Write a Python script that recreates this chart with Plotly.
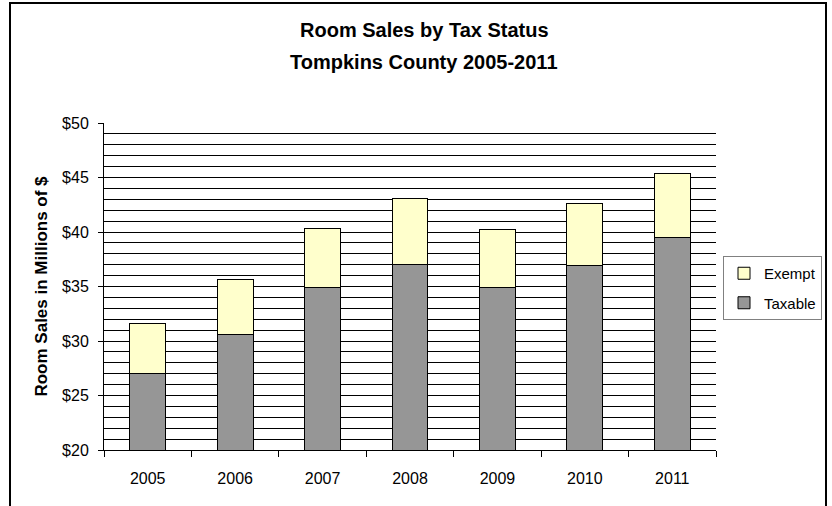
import plotly.graph_objects as go

years = ["2005", "2006", "2007", "2008", "2009", "2010", "2011"]
taxable = [27.0, 30.6, 34.95, 37.05, 34.95, 36.9, 39.45]
exempt = [4.65, 5.0, 5.4, 6.05, 5.3, 5.7, 5.95]

title_line1 = "Room Sales by Tax Status"
title_line2 = "Tompkins County 2005-2011"
y_title = "Room Sales in Millions of $"

FONT = "Liberation Sans, Arial, sans-serif"

# plot area geometry (pixels)
L, R, T, B = 104, 116, 123, 56
W, H = 832, 506
PW, PH = W - L - R, H - T - B


def px_x(X):
    return (X - L) / PW


def px_y(Y):
    return (H - B - Y) / PH


fig = go.Figure()
fig.add_trace(go.Bar(
    x=years, y=taxable, name="Taxable", legendgroup="t", legendrank=2,
    marker=dict(color="#969696", line=dict(color="black", width=1)),
))
fig.add_trace(go.Bar(
    x=years, y=exempt, name="Exempt", legendgroup="e", legendrank=1,
    marker=dict(color="#FFFFCC", line=dict(color="black", width=1)),
))

fig.update_layout(
    width=W, height=H,
    margin=dict(l=L, r=R, t=T, b=B, autoexpand=False),
    barmode="stack", bargap=0.589,
    paper_bgcolor="white", plot_bgcolor="white",
    font=dict(family=FONT, size=16, color="black"),
    showlegend=True,
    legend=dict(
        x=px_x(723), y=px_y(256), xanchor="left", yanchor="top",
        traceorder="grouped", tracegroupgap=7,
        bordercolor="#808080", borderwidth=1, bgcolor="white",
        font=dict(family=FONT, size=15, color="black"),
    ),
    xaxis=dict(
        type="category", showgrid=False, showline=True, linecolor="black", linewidth=1,
        ticks="outside", ticklen=6, tickcolor="black", tickson="boundaries",
        ticklabelstandoff=14,
        tickfont=dict(family=FONT, size=16, color="black"),
    ),
    yaxis=dict(
        range=[20, 50], dtick=5, tick0=0, tickprefix="$",
        showgrid=True, gridcolor="black", gridwidth=1,
        minor=dict(dtick=1, showgrid=True, gridcolor="black", gridwidth=1),
        showline=True, linecolor="black", linewidth=1,
        ticks="outside", ticklen=5, tickcolor="black",
        ticklabelstandoff=6, zeroline=False,
        tickfont=dict(family=FONT, size=16, color="black"),
        title=dict(text=y_title, standoff=10,
                   font=dict(family=FONT, size=17, color="black", weight="bold")),
    ),
    shapes=[dict(
        type="rect", xref="paper", yref="paper",
        x0=px_x(10), x1=px_x(826), y0=px_y(530), y1=px_y(3),
        line=dict(color="black", width=2), fillcolor="rgba(0,0,0,0)", layer="above",
    )],
    annotations=[
        dict(text=title_line1, xref="paper", yref="paper", x=px_x(424), y=px_y(30),
             xanchor="center", yanchor="middle", showarrow=False,
             font=dict(family=FONT, size=20, color="black", weight="bold")),
        dict(text=title_line2, xref="paper", yref="paper", x=px_x(424), y=px_y(61.8),
             xanchor="center", yanchor="middle", showarrow=False,
             font=dict(family=FONT, size=20, color="black", weight="bold")),
    ],
)

fig.write_html("out.html")
